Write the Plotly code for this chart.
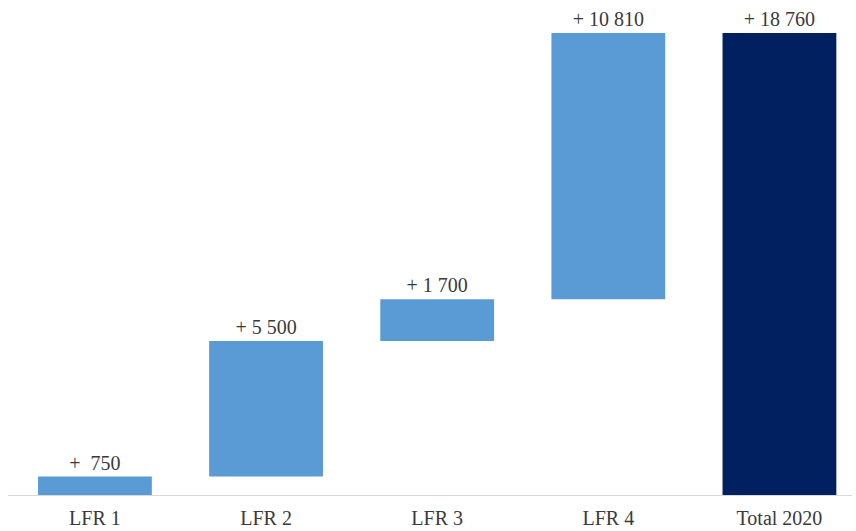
import plotly.graph_objects as go

categories = ["LFR 1", "LFR 2", "LFR 3", "LFR 4", "Total 2020"]
steps = [750, 5500, 1700, 10810]
total = 18760
measures = ["relative", "relative", "relative", "relative", "total"]
values = steps + [total]


def fmt(v):
    s = f"{v:,}".replace(",", "\u00a0")
    return ("+\u00a0\u00a0" if v < 1000 else "+\u00a0") + s


labels = [fmt(v) for v in values]

fig = go.Figure(
    go.Waterfall(
        x=categories,
        y=values,
        measure=measures,
        text=labels,
        textposition="outside",
        textfont=dict(family="Liberation Serif", size=20, color="#3a3a3a"),
        increasing=dict(marker=dict(color="#5B9BD5")),
        totals=dict(marker=dict(color="#002060")),
        connector=dict(visible=False),
        cliponaxis=False,
        width=0.665,
    )
)

fig.update_layout(
    width=856,
    height=531,
    margin=dict(l=8, r=4, t=20, b=36),
    plot_bgcolor="white",
    paper_bgcolor="white",
    showlegend=False,
    font=dict(family="Liberation Serif", size=20, color="#3a3a3a"),
)
fig.update_xaxes(
    range=[-0.508, 4.424],
    automargin=False,
    showline=True,
    linecolor="#D9D9D9",
    linewidth=1,
    showgrid=False,
    ticks="",
    ticklabelstandoff=5,
    tickfont=dict(family="Liberation Serif", size=20, color="#3a3a3a"),
)
fig.update_yaxes(
    range=[0, 19287],
    automargin=False,
    showgrid=False,
    zeroline=False,
    showticklabels=False,
    showline=False,
)

fig.write_html("out.html")
